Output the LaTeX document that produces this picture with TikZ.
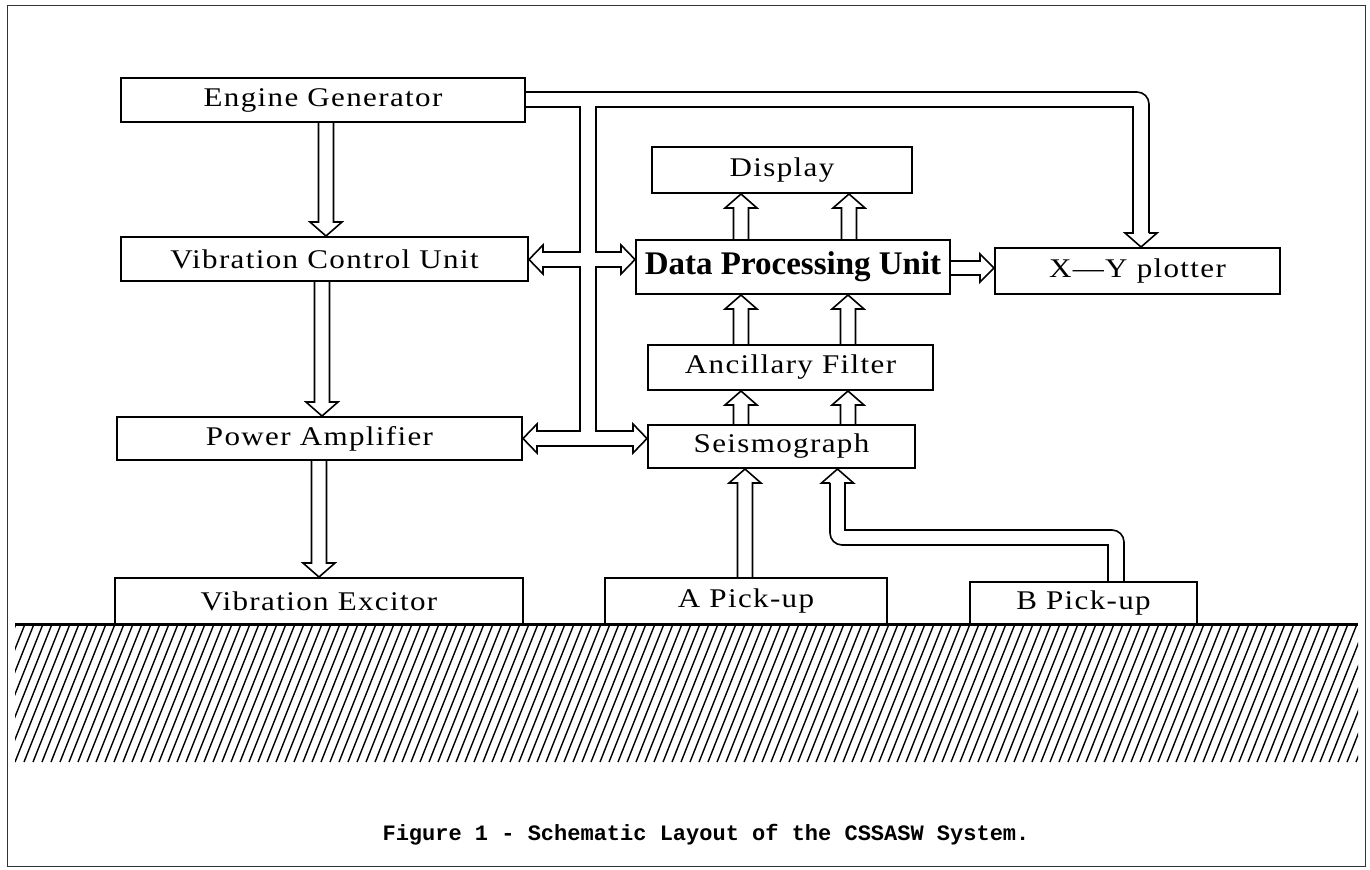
\documentclass[tikz,border=0pt]{standalone}
\usepackage{fontspec}
\setmainfont{Liberation Serif}
\newfontfamily\boxfont{Liberation Serif}[FakeStretch=1.15, LetterSpace=5]
\newfontfamily\capfont{Liberation Mono}
\usetikzlibrary{calc}

\tikzset{
  box/.style={draw, line width=1pt, inner sep=0pt,
    font=\boxfont\fontsize{13.5}{15}\selectfont},
  bigbox/.style={box, font=\bfseries\fontsize{16.5}{18}\selectfont},
  pipe/.style={line width=0.8pt, line join=miter},
  hatch/.style={line width=0.7pt},
  ground/.style={line width=1.5pt},
  frame/.style={line width=0.5pt, black!80},
}

% hollow block arrows; #1 = position across the arrow (px), #2 = from node, #3 = to node
\newcommand\hup[3]{%
  \coordinate (hx) at (#1,0);
  \draw[pipe] ($(#2.north -| hx)+(-7.5,0)$) -- ($(#3.south -| hx)+(-7.5,14)$)
    -- ($(#3.south -| hx)+(-16,14)$) -- (#3.south -| hx)
    -- ($(#3.south -| hx)+(16,14)$) -- ($(#3.south -| hx)+(7.5,14)$)
    -- ($(#2.north -| hx)+(7.5,0)$);}
\newcommand\hdown[3]{%
  \coordinate (hx) at (#1,0);
  \draw[pipe] ($(#2.south -| hx)+(-7.5,0)$) -- ($(#3.north -| hx)+(-7.5,-14)$)
    -- ($(#3.north -| hx)+(-16,-14)$) -- (#3.north -| hx)
    -- ($(#3.north -| hx)+(16,-14)$) -- ($(#3.north -| hx)+(7.5,-14)$)
    -- ($(#2.south -| hx)+(7.5,0)$);}
\newcommand\hright[3]{%
  \coordinate (hy) at (0,#1);
  \draw[pipe] ($(#2.east |- hy)+(0,-7)$) -- ($(#3.west |- hy)+(-14,-7)$)
    -- ($(#3.west |- hy)+(-14,-14)$) -- (#3.west |- hy)
    -- ($(#3.west |- hy)+(-14,14)$) -- ($(#3.west |- hy)+(-14,7)$)
    -- ($(#2.east |- hy)+(0,7)$);}

\begin{document}
\begin{tikzpicture}[x=0.5pt, y=-0.5pt]
\useasboundingbox (0,0) rectangle (1370,869);
\draw[frame] (7,5) rectangle (1365,866);

% units
\node[box, minimum width=202pt, minimum height=22pt]   (eg)   at (323,100)   {Engine Generator};
\node[box, minimum width=203.5pt, minimum height=22pt] (vcu)  at (324.5,259) {Vibration Control Unit};
\node[box, minimum width=202.5pt, minimum height=21.5pt] (pa) at (319.5,438.5) {Power Amplifier};
\node[box, minimum width=204pt, minimum height=23pt]   (ve)   at (319,601)   {Vibration Excitor};
\node[box, minimum width=130pt, minimum height=23pt]   (disp) at (782,170)   {Display};
\node[bigbox, minimum width=157pt, minimum height=27pt] (dpu) at (793,267)   {Data Processing Unit};
\node[box, minimum width=142.5pt, minimum height=23pt] (xy)   at (1137.5,271) {X—Y plotter};
\node[box, minimum width=142.5pt, minimum height=22.5pt] (af) at (790.5,367.5) {Ancillary Filter};
\node[box, minimum width=133.5pt, minimum height=21.5pt] (seis) at (781.5,446.5) {Seismograph};
\node[box, minimum width=141pt, minimum height=23pt]   (apu)  at (746,601)   {A Pick-up};
\node[box, minimum width=113.5pt, minimum height=21pt] (bpu)  at (1083.5,603) {B Pick-up};

% ground
\draw[ground] (15,624) -- (1358,624);
\begin{scope}
  \clip (15,624) rectangle (1358,762);
  \foreach \i in {-8,...,152}
    \draw[hatch] ({15+\i*9},762) -- ++(55,-138);
\end{scope}

% straight block arrows
\hdown{326}{eg}{vcu}
\hdown{322}{vcu}{pa}
\hdown{319}{pa}{ve}
\hup{741}{dpu}{disp}
\hup{849}{dpu}{disp}
\hup{741}{af}{dpu}
\hup{848}{af}{dpu}
\hup{741}{seis}{af}
\hup{848}{seis}{af}
\hup{745}{apu}{seis}
\hright{268}{dpu}{xy}

% supply bus from the engine generator
\coordinate (busT) at (0,92);   \coordinate (busB) at (0,107);
\coordinate (busL) at (580,0);  \coordinate (busR) at (596,0);
\coordinate (dL) at (1133,0);   \coordinate (dR) at (1149,0);  \coordinate (dC) at (1141,0);
\coordinate (v1) at (0,252);    \coordinate (v2) at (0,267);   \coordinate (vc) at (0,259.5);
\coordinate (vh1) at (0,245);   \coordinate (vh2) at (0,274);
\coordinate (p1) at (0,431);    \coordinate (p2) at (0,446);   \coordinate (pc) at (0,438.5);
\coordinate (ph1) at (0,424);   \coordinate (ph2) at (0,453);

\draw[pipe, rounded corners=6pt] (eg.east |- busT) -- (dR |- busT) -- ($(dR |- xy.north)+(0,-14)$);
\draw[pipe] ($(dR |- xy.north)+(0,-14)$) -- ($(dC |- xy.north)+(16,-14)$) -- (dC |- xy.north)
  -- ($(dC |- xy.north)+(-16,-14)$) -- ($(dL |- xy.north)+(0,-14)$)
  -- (dL |- busB) -- (busR |- busB) -- (busR |- v1)
  -- ($(dpu.west |- v1)+(-14,0)$) -- ($(dpu.west |- vh1)+(-14,0)$) -- (dpu.west |- vc)
  -- ($(dpu.west |- vh2)+(-14,0)$) -- ($(dpu.west |- v2)+(-14,0)$)
  -- (busR |- v2) -- (busR |- p1)
  -- ($(seis.west |- p1)+(-14,0)$) -- ($(seis.west |- ph1)+(-14,0)$) -- (seis.west |- pc)
  -- ($(seis.west |- ph2)+(-14,0)$) -- ($(seis.west |- p2)+(-14,0)$)
  -- ($(pa.east |- p2)+(14,0)$) -- ($(pa.east |- ph2)+(14,0)$) -- (pa.east |- pc)
  -- ($(pa.east |- ph1)+(14,0)$) -- ($(pa.east |- p1)+(14,0)$)
  -- (busL |- p1) -- (busL |- v2)
  -- ($(vcu.east |- v2)+(14,0)$) -- ($(vcu.east |- vh2)+(14,0)$) -- (vcu.east |- vc)
  -- ($(vcu.east |- vh1)+(14,0)$) -- ($(vcu.east |- v1)+(14,0)$)
  -- (busL |- v1) -- (busL |- busB) -- (eg.east |- busB);

% B pick-up signal line to the seismograph
\coordinate (bL) at (1108,0);  \coordinate (bR) at (1124,0);
\coordinate (bh1) at (0,530);  \coordinate (bh2) at (0,545);
\coordinate (sL) at (830,0);   \coordinate (sR) at (845,0);  \coordinate (sC) at (837.5,0);
\draw[pipe] (bpu.north -| bL) -- (bL |- bh2) -- ($(sL |- bh2)+(12,0)$);
\draw[pipe, rounded corners=6pt] ($(sL |- bh2)+(12,0)$) -- (sL |- bh2) -- ($(sL |- seis.south)+(0,14)$);
\draw[pipe] ($(sL |- seis.south)+(0,14)$) -- ($(sC |- seis.south)+(-16,14)$) -- (sC |- seis.south)
  -- ($(sC |- seis.south)+(16,14)$) -- ($(sR |- seis.south)+(0,14)$) -- (sR |- bh1)
  -- ($(bR |- bh1)+(-12,0)$);
\draw[pipe, rounded corners=6pt] ($(bR |- bh1)+(-12,0)$) -- (bR |- bh1) -- (bpu.north -| bR);

% caption
\node[font=\capfont\bfseries\fontsize{11}{13}\selectfont] (cap) at (706,835)
  {Figure 1 - Schematic Layout of the CSSASW System.};
\end{tikzpicture}
\end{document}
